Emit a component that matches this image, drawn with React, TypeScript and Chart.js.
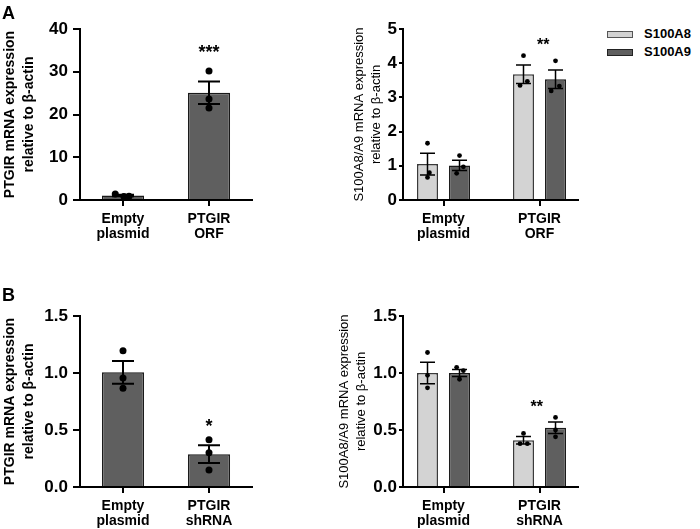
import React, { useEffect, useRef } from 'react';
import { Chart, registerables } from 'chart.js';
Chart.register(...registerables);

const FONT = "'Liberation Sans', Arial, Helvetica, sans-serif";

// ---------- Panel A (left): PTGIR overexpression ----------
const aLeftCategories = [['Empty', 'plasmid'], ['PTGIR', 'ORF']];
const aLeftMeans = [1.03, 25.1];
const aLeftSem = [0.18, 2.62];
const aLeftPoints = [[1.4, 0.8, 0.9], [30.2, 23.6, 21.5]];
const aLeftJitter = [[-0.09, 0.01, 0.07], [0, 0, 0]];
const aLeftYTicks = { max: 40, step: 10, decimals: 0 };
const aLeftStars = [{ x: 1, y: 35.6, text: '***' }];

// ---------- Panel A (right): S100A8 / S100A9 ----------
const aRightCategories = [['Empty', 'plasmid'], ['PTGIR', 'ORF']];
const aRightS100A8Means = [1.05, 3.68];
const aRightS100A8Sem = [0.32, 0.27];
const aRightS100A8Points = [[1.66, 0.8, 0.66], [4.22, 3.35, 3.47]];
const aRightS100A8Jitter = [[0, 0.02, 0], [0, -0.036, 0.04]];
const aRightS100A9Means = [1.01, 3.53];
const aRightS100A9Sem = [0.15, 0.27];
const aRightS100A9Points = [[1.3, 0.78, 0.97], [4.07, 3.19, 3.33]];
const aRightS100A9Jitter = [[0, -0.03, 0.04], [0, -0.045, 0.04]];
const aRightYTicks = { max: 5, step: 1, decimals: 0 };
const aRightStars = [{ x: 1.04, y: 4.65, text: '**' }];

// ---------- Panel B (left): PTGIR knockdown ----------
const bLeftCategories = [['Empty', 'plasmid'], ['PTGIR', 'shRNA']];
const bLeftMeans = [1.006, 0.288];
const bLeftSem = [0.1, 0.078];
const bLeftPoints = [[1.195, 0.956, 0.866], [0.415, 0.3, 0.149]];
const bLeftJitter = [[0, 0, 0], [0, 0, 0]];
const bLeftYTicks = { max: 1.5, step: 0.5, decimals: 1 };
const bLeftStars = [{ x: 1, y: 0.57, text: '*' }];

// ---------- Panel B (right): S100A8 / S100A9 ----------
const bRightCategories = [['Empty', 'plasmid'], ['PTGIR', 'shRNA']];
const bRightS100A8Means = [1.0, 0.41];
const bRightS100A8Sem = [0.095, 0.032];
const bRightS100A8Points = [[1.18, 0.98, 0.87], [0.47, 0.38, 0.38]];
const bRightS100A8Jitter = [[0, 0, 0], [0, -0.036, 0.04]];
const bRightS100A9Means = [1.0, 0.52];
const bRightS100A9Sem = [0.03, 0.05];
const bRightS100A9Points = [[1.05, 1.02, 0.945], [0.61, 0.5, 0.44]];
const bRightS100A9Jitter = [[-0.03, 0.04, 0], [0, 0, 0]];
const bRightYTicks = { max: 1.5, step: 0.5, decimals: 1 };
const bRightStars = [{ x: 0.97, y: 0.734, text: '**' }];

const seriesNames = ['S100A8', 'S100A9'];
const LIGHT = '#d3d3d3';
const DARK = '#5f5f5f';

const leftTitle = ['PTGIR mRNA expression', 'relative to \u03B2-actin'];
const rightTitle = ['S100A8/A9 mRNA expression', 'relative to \u03B2-actin'];

type Series = {
  label: string;
  fill: string;
  stroke: string;
  means: number[];
  sem: number[];
  points: number[][];
  jitter: number[][];
};

type Star = { x: number; y: number; text: string };

type PanelProps = {
  left: number;
  top: number;
  width: number;
  height: number;
  padTop: number;
  padRight: number;
  yAxisWidth: number;
  xMin: number;
  xMax: number;
  catPct: number;
  barPct: number;
  yTicks: { max: number; step: number; decimals: number };
  yTitle: string[];
  titleBold: boolean;
  titleSize: number;
  titleLH: number;
  tickLen: number;
  tickPad: number;
  pointRadius: number;
  capWidth: number;
  errWidth: number;
  categories: string[][];
  series: Series[];
  stars: Star[];
  starSize: number;
};

const errorBarPlugin = {
  id: 'errorBars',
  afterDatasetDraw(chart: any, args: any, opts: any) {
    const ds = chart.data.datasets[args.index];
    if (!ds.sem) return;
    const y = chart.scales.y;
    const ctx = chart.ctx;
    ctx.save();
    ctx.strokeStyle = '#000';
    ctx.lineWidth = opts.lineWidth;
    args.meta.data.forEach((el: any, j: number) => {
      const m = ds.data[j].y;
      const s = ds.sem[j];
      const yt = y.getPixelForValue(m + s);
      const yb = y.getPixelForValue(m - s);
      const x = el.x;
      const hw = opts.capWidth / 2;
      ctx.beginPath();
      ctx.moveTo(x, yb);
      ctx.lineTo(x, yt);
      ctx.moveTo(x - hw, yt);
      ctx.lineTo(x + hw, yt);
      ctx.moveTo(x - hw, yb);
      ctx.lineTo(x + hw, yb);
      ctx.stroke();
    });
    ctx.restore();
  },
};

const starPlugin = {
  id: 'stars',
  afterDraw(chart: any, _args: any, opts: any) {
    const ctx = chart.ctx;
    const xs = chart.scales.x;
    const ys = chart.scales.y;
    ctx.save();
    ctx.fillStyle = '#000';
    ctx.font = `bold ${opts.size}px ${FONT}`;
    ctx.textAlign = 'center';
    ctx.textBaseline = 'alphabetic';
    (opts.items || []).forEach((st: Star) => {
      const x = xs.getPixelForValue(st.x);
      const y = ys.getPixelForValue(st.y);
      ctx.fillText(st.text, x, y + 0.57 * opts.size);
    });
    ctx.restore();
  },
};

function Panel(p: PanelProps) {
  const ref = useRef<HTMLCanvasElement>(null);
  useEffect(() => {
    if (!ref.current) return;
    const nS = p.series.length;
    const datasets: any[] = [];
    p.series.forEach((s, si) => {
      const shift = nS > 1 ? (si - (nS - 1) / 2) * (p.catPct / nS) : 0;
      datasets.push({
        type: 'scatter',
        order: 0,
        label: s.label + ' points',
        data: s.points.flatMap((pts, ci) =>
          pts.map((v, k) => ({ x: ci + shift + s.jitter[ci][k], y: v }))
        ),
        pointRadius: p.pointRadius,
        pointBackgroundColor: '#000',
        pointBorderColor: '#000',
        pointBorderWidth: 0,
        showLine: false,
      });
    });
    p.series.forEach((s) => {
      datasets.push({
        type: 'bar',
        order: 1,
        label: s.label,
        data: s.means.map((m, ci) => ({ x: ci, y: m })),
        sem: s.sem,
        backgroundColor: s.fill,
        borderColor: s.stroke,
        borderWidth: 1.5,
        categoryPercentage: p.catPct,
        barPercentage: p.barPct,
      });
    });
    const tickFont = { family: FONT, size: 17, weight: 'bold' as const };
    const chart = new Chart(ref.current, {
      type: 'bar',
      data: { datasets },
      plugins: [errorBarPlugin, starPlugin],
      options: {
        animation: false,
        responsive: false,
        maintainAspectRatio: false,
        layout: { padding: { top: p.padTop, right: p.padRight, left: 0, bottom: 0 } },
        plugins: {
          legend: { display: false },
          tooltip: { enabled: false },
          errorBars: { capWidth: p.capWidth, lineWidth: p.errWidth },
          stars: { items: p.stars, size: p.starSize },
        } as any,
        scales: {
          x: {
            type: 'linear',
            min: p.xMin,
            max: p.xMax,
            offset: false,
            afterBuildTicks: (sc: any) => {
              sc.ticks = p.categories.map((_, i) => ({ value: i }));
            },
            afterFit: (sc: any) => {
              sc.height = 50;
            },
            ticks: {
              autoSkip: false,
              maxRotation: 0,
              minRotation: 0,
              padding: 5,
              color: '#000',
              font: { family: FONT, size: 14, weight: 'bold', lineHeight: 1.1 },
              callback: (v: any) => p.categories[Math.round(Number(v))] as any,
            },
            grid: {
              display: true,
              drawOnChartArea: false,
              drawTicks: true,
              tickLength: 6,
              color: '#000',
              lineWidth: 2,
              offset: false,
            },
            border: { display: true, color: '#000', width: 2 },
          } as any,
          y: {
            type: 'linear',
            min: 0,
            max: p.yTicks.max,
            afterFit: (sc: any) => {
              sc.width = p.yAxisWidth;
            },
            ticks: {
              stepSize: p.yTicks.step,
              padding: p.tickPad,
              color: '#000',
              font: tickFont,
              callback: (v: any) => Number(v).toFixed(p.yTicks.decimals),
            },
            grid: {
              display: true,
              drawOnChartArea: false,
              drawTicks: true,
              tickLength: p.tickLen,
              color: '#000',
              lineWidth: 2,
            },
            border: { display: true, color: '#000', width: 2 },
            title: {
              display: true,
              text: p.yTitle,
              color: '#000',
              padding: 0,
              font: {
                family: FONT,
                size: p.titleSize,
                weight: p.titleBold ? 'bold' : 'normal',
                lineHeight: p.titleLH,
              },
            },
          } as any,
        },
      },
    });
    return () => chart.destroy();
  }, []);
  return (
    <canvas
      ref={ref}
      width={p.width}
      height={p.height}
      style={{ position: 'absolute', left: p.left, top: p.top, width: p.width, height: p.height }}
    />
  );
}

const leftCommon = {
  width: 260,
  height: 250,
  padTop: 29,
  padRight: 8,
  yAxisWidth: 80,
  xMin: -0.5,
  xMax: 1.5,
  catPct: 1,
  barPct: 0.49,
  yTitle: leftTitle,
  titleBold: true,
  titleSize: 14,
  titleLH: 1.4,
  tickLen: 7,
  tickPad: 5,
  pointRadius: 3.5,
  capWidth: 22,
  errWidth: 2,
  starSize: 18,
};

const rightCommon = {
  height: 250,
  padTop: 29,
  padRight: 10,
  xMin: -0.422,
  xMax: 1.401,
  catPct: 0.667,
  barPct: 0.656,
  yTitle: rightTitle,
  titleBold: false,
  titleSize: 13,
  titleLH: 1.38,
  tickLen: 4,
  tickPad: 2,
  pointRadius: 2.4,
  capWidth: 15,
  errWidth: 1.5,
  starSize: 16,
};

export default function App() {
  useEffect(() => {
    document.body.style.margin = '0';
  }, []);
  const mk = (label: string, fill: string, stroke: string, means: number[], sem: number[], points: number[][], jitter: number[][]): Series => ({
    label, fill, stroke, means, sem, points, jitter,
  });
  return (
    <div style={{ position: 'absolute', left: 0, top: 0, width: 700, height: 529, overflow: 'hidden', background: '#fff', fontFamily: FONT }}>
      <Panel
        {...leftCommon}
        left={0}
        top={0}
        yTicks={aLeftYTicks}
        categories={aLeftCategories}
        series={[mk('PTGIR', DARK, '#1a1a1a', aLeftMeans, aLeftSem, aLeftPoints, aLeftJitter)]}
        stars={aLeftStars}
      />
      <Panel
        {...rightCommon}
        left={350}
        top={0}
        width={238}
        yAxisWidth={53}
        yTicks={aRightYTicks}
        categories={aRightCategories}
        series={[
          mk(seriesNames[0], LIGHT, '#3a3a3a', aRightS100A8Means, aRightS100A8Sem, aRightS100A8Points, aRightS100A8Jitter),
          mk(seriesNames[1], DARK, '#1a1a1a', aRightS100A9Means, aRightS100A9Sem, aRightS100A9Points, aRightS100A9Jitter),
        ]}
        stars={aRightStars}
      />
      <Panel
        {...leftCommon}
        left={0}
        top={287}
        yTicks={bLeftYTicks}
        categories={bLeftCategories}
        series={[mk('PTGIR', DARK, '#1a1a1a', bLeftMeans, bLeftSem, bLeftPoints, bLeftJitter)]}
        stars={bLeftStars}
      />
      <Panel
        {...rightCommon}
        left={335}
        top={287}
        width={253}
        yAxisWidth={68}
        yTicks={bRightYTicks}
        categories={bRightCategories}
        series={[
          mk(seriesNames[0], LIGHT, '#3a3a3a', bRightS100A8Means, bRightS100A8Sem, bRightS100A8Points, bRightS100A8Jitter),
          mk(seriesNames[1], DARK, '#1a1a1a', bRightS100A9Means, bRightS100A9Sem, bRightS100A9Points, bRightS100A9Jitter),
        ]}
        stars={bRightStars}
      />
      <div style={{ position: 'absolute', left: 2, top: 4, fontSize: 18, lineHeight: '18px', fontWeight: 'bold', color: '#000' }}>A</div>
      <div style={{ position: 'absolute', left: 2, top: 286, fontSize: 18, lineHeight: '18px', fontWeight: 'bold', color: '#000' }}>B</div>
      {seriesNames.map((name, i) => (
        <React.Fragment key={name}>
          <div
            style={{
              position: 'absolute',
              left: 607,
              top: 31 + i * 18,
              width: 24,
              height: 5,
              background: i === 0 ? LIGHT : DARK,
              border: `1px solid ${i === 0 ? '#555' : '#222'}`,
            }}
          />
          <div
            style={{
              position: 'absolute',
              left: 644,
              top: 26 + i * 18,
              fontSize: 13,
              lineHeight: '15px',
              fontWeight: 'bold',
              color: '#000',
              whiteSpace: 'nowrap',
            }}
          >
            {name}
          </div>
        </React.Fragment>
      ))}
    </div>
  );
}
